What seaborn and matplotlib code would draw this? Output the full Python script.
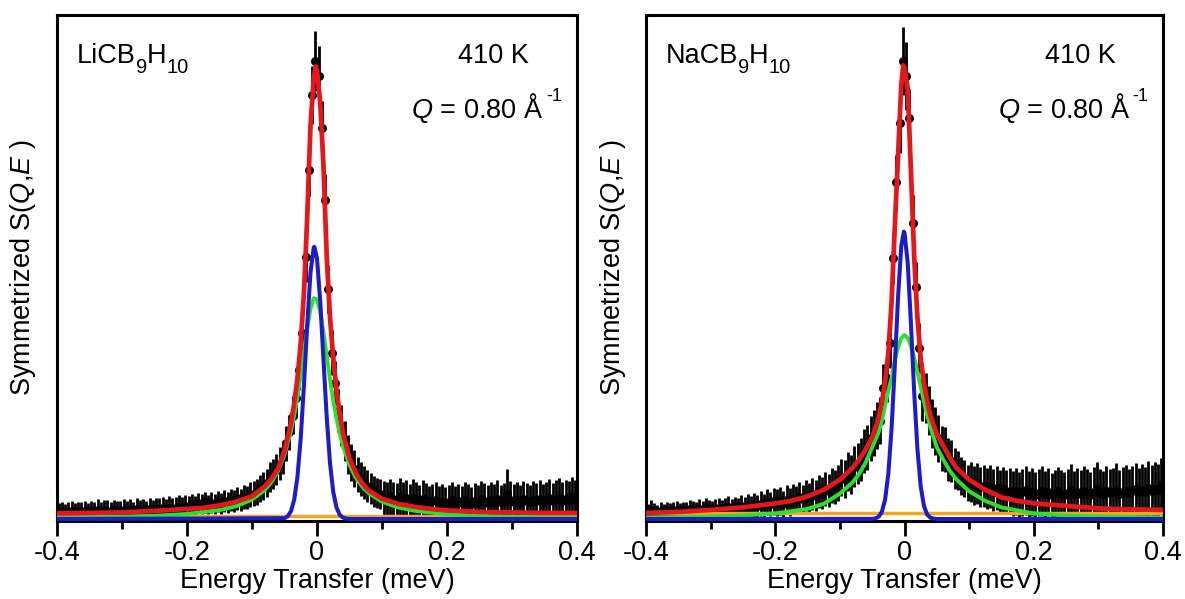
import numpy as np
import matplotlib
matplotlib.use("Agg")
import matplotlib.pyplot as plt
import seaborn as sns
from matplotlib.ticker import FixedLocator
from matplotlib.transforms import offset_copy

# ---------------------------------------------------------------- data
# energy-bin centres of the measured spectra (meV), 0.005 meV bins
energy_bins = np.linspace(-0.3975, 0.3975, 160)

li_intensity = [
    # -0.3975 ... -0.2025
    0.012, 0.014, 0.011, 0.013, 0.015, 0.012, 0.014, 0.013, 0.016, 0.012,
    0.015, 0.014, 0.017, 0.013, 0.016, 0.015, 0.013, 0.017, 0.014, 0.016,
    0.018, 0.015, 0.017, 0.014, 0.019, 0.016, 0.018, 0.015, 0.019, 0.017,
    0.020, 0.018, 0.021, 0.017, 0.022, 0.019, 0.021, 0.023, 0.020, 0.024,
    # -0.1975 ... -0.1025
    0.026, 0.030, 0.027, 0.031, 0.029, 0.033, 0.028, 0.032, 0.030, 0.034,
    0.031, 0.036, 0.033, 0.038, 0.035, 0.041, 0.038, 0.044, 0.042, 0.048,
    # -0.0975 ... -0.0225
    0.050, 0.054, 0.061, 0.066, 0.072, 0.083, 0.089, 0.098,
    0.110, 0.122, 0.150, 0.172, 0.205, 0.240, 0.295, 0.370,
    # -0.0175 ... 0.0175
    0.519, 0.692, 0.841, 0.909, 0.879, 0.775, 0.632, 0.456,
    # 0.0225 ... 0.0975
    0.330, 0.270, 0.215, 0.185, 0.155, 0.128, 0.112, 0.100,
    0.088, 0.080, 0.072, 0.066, 0.061, 0.055, 0.052, 0.049,
    # 0.1025 ... 0.3975
    0.040, 0.037, 0.043, 0.039, 0.035, 0.044, 0.038, 0.041, 0.034, 0.042,
    0.037, 0.033, 0.040, 0.036, 0.031, 0.035, 0.038, 0.032, 0.034, 0.030,
    0.033, 0.037, 0.031, 0.035, 0.032, 0.038, 0.034, 0.030, 0.036, 0.033,
    0.039, 0.035, 0.032, 0.037, 0.034, 0.040, 0.033, 0.036, 0.049, 0.038,
    0.034, 0.037, 0.032, 0.039, 0.035, 0.033, 0.038, 0.036, 0.040, 0.034,
    0.037, 0.041, 0.035, 0.039, 0.042, 0.036, 0.040, 0.038, 0.043, 0.039,
]
li_error = [
    0.019, 0.020, 0.019, 0.020, 0.021, 0.020, 0.020, 0.021, 0.020, 0.020,
    0.021, 0.020, 0.022, 0.020, 0.021, 0.022, 0.020, 0.021, 0.021, 0.020,
    0.022, 0.021, 0.022, 0.020, 0.022, 0.021, 0.022, 0.021, 0.023, 0.021,
    0.022, 0.023, 0.022, 0.022, 0.023, 0.022, 0.023, 0.024, 0.023, 0.024,
    0.019, 0.020, 0.019, 0.020, 0.020, 0.021, 0.019, 0.021, 0.020, 0.021,
    0.021, 0.022, 0.021, 0.022, 0.022, 0.023, 0.022, 0.024, 0.023, 0.025,
    0.025, 0.026, 0.027, 0.028, 0.028, 0.030, 0.030, 0.031,
    0.032, 0.033, 0.034, 0.035, 0.036, 0.038, 0.040, 0.042,
    0.048, 0.052, 0.058, 0.060, 0.060, 0.055, 0.052, 0.048,
    0.045, 0.044, 0.042, 0.041, 0.040, 0.038, 0.037, 0.036,
    0.035, 0.034, 0.033, 0.032, 0.031, 0.031, 0.030, 0.030,
    0.035, 0.036, 0.037, 0.035, 0.036, 0.038, 0.036, 0.037, 0.035, 0.037,
    0.036, 0.035, 0.037, 0.036, 0.034, 0.035, 0.036, 0.034, 0.035, 0.034,
    0.035, 0.036, 0.034, 0.035, 0.034, 0.036, 0.035, 0.034, 0.036, 0.035,
    0.037, 0.036, 0.035, 0.037, 0.036, 0.038, 0.035, 0.036, 0.051, 0.037,
    0.036, 0.037, 0.035, 0.037, 0.036, 0.035, 0.037, 0.036, 0.038, 0.036,
    0.037, 0.039, 0.036, 0.038, 0.040, 0.037, 0.038, 0.037, 0.040, 0.038,
]

na_intensity = [
    0.014, 0.018, 0.015, 0.013, 0.016, 0.014, 0.017, 0.015, 0.016, 0.018,
    0.015, 0.017, 0.016, 0.019, 0.017, 0.016, 0.020, 0.018, 0.021, 0.019,
    0.017, 0.020, 0.022, 0.019, 0.021, 0.024, 0.020, 0.023, 0.021, 0.025,
    0.022, 0.026, 0.024, 0.028, 0.025, 0.030, 0.027, 0.033, 0.029, 0.035,
    0.032, 0.036, 0.030, 0.038, 0.034, 0.040, 0.037, 0.043, 0.039, 0.046,
    0.042, 0.050, 0.046, 0.055, 0.051, 0.060, 0.056, 0.066, 0.063, 0.072,
    0.082, 0.080, 0.094, 0.088, 0.104, 0.110, 0.118, 0.135,
    0.142, 0.160, 0.170, 0.186, 0.195, 0.259, 0.280, 0.349,
    0.517, 0.668, 0.785, 0.909, 0.879, 0.796, 0.587, 0.460,
    0.339, 0.245, 0.240, 0.215, 0.190, 0.175, 0.160, 0.140,
    0.138, 0.118, 0.115, 0.100, 0.096, 0.085, 0.080, 0.072,
    0.073, 0.067, 0.071, 0.063, 0.066, 0.060, 0.064, 0.057, 0.061, 0.055,
    0.059, 0.053, 0.056, 0.051, 0.055, 0.049, 0.053, 0.057, 0.050, 0.054,
    0.048, 0.052, 0.056, 0.049, 0.053, 0.047, 0.051, 0.055, 0.050, 0.048,
    0.052, 0.057, 0.049, 0.053, 0.050, 0.055, 0.051, 0.048, 0.054, 0.060,
    0.052, 0.049, 0.055, 0.051, 0.053, 0.058, 0.050, 0.054, 0.056, 0.052,
    0.055, 0.059, 0.053, 0.057, 0.054, 0.061, 0.056, 0.060, 0.058, 0.065,
]
na_error = [
    0.016, 0.020, 0.016, 0.015, 0.017, 0.016, 0.017, 0.016, 0.017, 0.018,
    0.016, 0.017, 0.017, 0.019, 0.018, 0.017, 0.019, 0.018, 0.020, 0.019,
    0.018, 0.019, 0.020, 0.019, 0.020, 0.021, 0.019, 0.021, 0.020, 0.022,
    0.021, 0.023, 0.022, 0.024, 0.022, 0.025, 0.023, 0.026, 0.024, 0.027,
    0.027, 0.028, 0.026, 0.029, 0.028, 0.030, 0.028, 0.031, 0.029, 0.031,
    0.030, 0.032, 0.031, 0.033, 0.032, 0.034, 0.033, 0.035, 0.034, 0.036,
    0.037, 0.038, 0.039, 0.039, 0.040, 0.041, 0.042, 0.043,
    0.044, 0.045, 0.046, 0.047, 0.047, 0.048, 0.048, 0.050,
    0.050, 0.055, 0.058, 0.068, 0.068, 0.058, 0.055, 0.050,
    0.050, 0.050, 0.050, 0.049, 0.049, 0.048, 0.046, 0.045,
    0.044, 0.042, 0.041, 0.040, 0.039, 0.038, 0.037, 0.036,
    0.040, 0.039, 0.041, 0.040, 0.042, 0.041, 0.043, 0.042, 0.044, 0.043,
    0.045, 0.044, 0.046, 0.045, 0.047, 0.045, 0.047, 0.049, 0.046, 0.048,
    0.046, 0.047, 0.050, 0.046, 0.048, 0.045, 0.047, 0.049, 0.047, 0.046,
    0.048, 0.052, 0.046, 0.049, 0.047, 0.050, 0.048, 0.046, 0.049, 0.054,
    0.048, 0.047, 0.050, 0.048, 0.049, 0.053, 0.047, 0.049, 0.051, 0.048,
    0.050, 0.053, 0.049, 0.052, 0.050, 0.055, 0.051, 0.054, 0.052, 0.056,
]

# fitted components (E in meV, S in arbitrary units)
li_total_E = [-0.4, -0.35, -0.3, -0.25, -0.2, -0.175, -0.15, -0.125, -0.1, -0.08,
              -0.07, -0.06, -0.05, -0.04, -0.035, -0.03, -0.025, -0.02, -0.015, -0.01,
              -0.005, -0.002, 0.0, 0.005, 0.01, 0.015, 0.02, 0.025, 0.03, 0.035,
              0.04, 0.05, 0.06, 0.07, 0.08, 0.1, 0.125, 0.15, 0.175, 0.2,
              0.25, 0.3, 0.35, 0.4]
li_total_S = [0.011, 0.012, 0.013, 0.016, 0.020, 0.022, 0.027, 0.034, 0.045, 0.065,
              0.080, 0.100, 0.135, 0.190, 0.230, 0.280, 0.350, 0.450, 0.600, 0.780,
              0.875, 0.898, 0.890, 0.825, 0.700, 0.520, 0.400, 0.320, 0.255, 0.210,
              0.170, 0.120, 0.090, 0.070, 0.056, 0.040, 0.030, 0.024, 0.020, 0.017,
              0.014, 0.013, 0.012, 0.012]

li_lorentz_E = [-0.4, -0.3, -0.25, -0.2, -0.15, -0.125, -0.1, -0.08, -0.07, -0.06,
                -0.05, -0.04, -0.035, -0.03, -0.025, -0.02, -0.015, -0.01, -0.005, 0.0,
                0.005, 0.01, 0.015, 0.02, 0.025, 0.03, 0.035, 0.04, 0.05, 0.06,
                0.07, 0.08, 0.1, 0.125, 0.15, 0.2, 0.25, 0.3, 0.4]
li_lorentz_S = [0.0024, 0.0044, 0.0064, 0.010, 0.0176, 0.0251, 0.0384, 0.058, 0.0735, 0.0954,
                0.1274, 0.1744, 0.206, 0.243, 0.286, 0.333, 0.379, 0.417, 0.438, 0.4356,
                0.411, 0.370, 0.3235, 0.277, 0.235, 0.199, 0.169, 0.144, 0.1068, 0.0813,
                0.0636, 0.0509, 0.0344, 0.0229, 0.0163, 0.0094, 0.0061, 0.0043, 0.0024]

li_elastic_E = [-0.4, -0.05, -0.045, -0.04, -0.035, -0.03, -0.025, -0.02, -0.015, -0.01,
                -0.005, -0.004, 0.0, 0.005, 0.01, 0.015, 0.02, 0.025, 0.03, 0.035,
                0.04, 0.045, 0.05, 0.4]
li_elastic_S = [0.0, 0.0016, 0.0054, 0.0154, 0.0387, 0.0845, 0.161, 0.267, 0.387, 0.489,
                0.539, 0.540, 0.517, 0.432, 0.315, 0.201, 0.111, 0.0537, 0.0227, 0.0083,
                0.0027, 0.0007, 0.0, 0.0]

li_background_E = [-0.4, 0.4]
li_background_S = [0.006, 0.006]

na_total_E = li_total_E
na_total_S = [0.012, 0.014, 0.018, 0.023, 0.031, 0.036, 0.045, 0.058, 0.078, 0.102,
              0.118, 0.138, 0.162, 0.200, 0.232, 0.272, 0.330, 0.430, 0.580, 0.720,
              0.860, 0.900, 0.895, 0.855, 0.690, 0.520, 0.400, 0.320, 0.270, 0.235,
              0.205, 0.168, 0.145, 0.122, 0.102, 0.078, 0.058, 0.043, 0.036, 0.031,
              0.026, 0.021, 0.019, 0.018]

na_lorentz_E = li_lorentz_E
na_lorentz_S = [0.003, 0.005, 0.007, 0.011, 0.020, 0.030, 0.0503, 0.073, 0.0898, 0.1123,
                0.1424, 0.172, 0.195, 0.225, 0.255, 0.280, 0.315, 0.340, 0.359, 0.365,
                0.359, 0.3435, 0.320, 0.292, 0.2625, 0.2336, 0.2067, 0.1825, 0.1424, 0.118,
                0.096, 0.079, 0.055, 0.036, 0.023, 0.011, 0.007, 0.005, 0.003]

na_elastic_E = [-0.4, -0.05, -0.045, -0.04, -0.035, -0.03, -0.025, -0.02, -0.015, -0.01,
                -0.005, -0.001, 0.0, 0.005, 0.01, 0.015, 0.02, 0.025, 0.03, 0.035,
                0.04, 0.045, 0.05, 0.4]
na_elastic_S = [0.0, 0.0003, 0.0012, 0.0044, 0.0141, 0.0387, 0.0901, 0.1795, 0.3045, 0.4398,
                0.5416, 0.570, 0.568, 0.508, 0.387, 0.251, 0.1389, 0.0655, 0.0263, 0.0090,
                0.0026, 0.0007, 0.0, 0.0]

na_background_E = [-0.4, 0.4]
na_background_S = [0.011, 0.011]

xtick_values = [-0.4, -0.2, 0.0, 0.2, 0.4]
xtick_labels = ["-0.4", "-0.2", "0", "0.2", "0.4"]
minor_tick_values = [-0.3, -0.1, 0.1, 0.3]
li_formula_parts = ["LiCB", "9", "H", "10"]   # normal, subscript, normal, subscript
na_formula_parts = ["NaCB", "9", "H", "10"]
temperature_label = "410 K"
q_label = r"$\mathit{Q}$ = 0.80 Å"
q_exponent = "-1"
x_title = "Energy Transfer (meV)"
y_title = r"Symmetrized S($\mathit{Q}$,$\mathit{E}$ )"

for arr in (li_intensity, li_error, na_intensity, na_error):
    assert len(arr) == len(energy_bins), len(arr)

# ---------------------------------------------------------------- style
sns.set_theme(style="ticks")
plt.rcParams["font.family"] = ["Liberation Sans", "DejaVu Sans"]
plt.rcParams["axes.unicode_minus"] = False
plt.rcParams["mathtext.fontset"] = "custom"
plt.rcParams["mathtext.rm"] = "Liberation Sans"
plt.rcParams["mathtext.it"] = "Liberation Sans:italic"
plt.rcParams["mathtext.bf"] = "Liberation Sans:bold"
plt.rcParams["mathtext.default"] = "regular"

RED = "#e3171c"
BLUE = "#1c1cc8"
GREEN = "#2ee02e"
ORANGE = "#f2a623"
FS = 19.5
SUB_FS = 14.5

fig = plt.figure(figsize=(11.85, 5.99), dpi=100)
fig.patch.set_facecolor("white")
ax_li = fig.add_axes([57 / 1185, (599 - 521) / 599, 520 / 1185, 506 / 599])
ax_na = fig.add_axes([646 / 1185, (599 - 521) / 599, 517 / 1185, 506 / 599])
renderer = fig.canvas.get_renderer()


def formula_text(ax, x, y, parts):
    """Write a chemical formula with alternating normal / subscript pieces."""
    dx = 0.0
    for k, s in enumerate(parts):
        sub = k % 2 == 1
        tr = offset_copy(ax.transAxes, fig=fig, x=dx, y=-7.0 if sub else 0.0,
                         units="points")
        t = ax.text(x, y, s, transform=tr, fontsize=SUB_FS if sub else FS,
                    ha="left", va="baseline", color="black")
        dx += t.get_window_extent(renderer).width * 72.0 / fig.dpi


panels = [
    (ax_li, li_intensity, li_error,
     [(li_background_E, li_background_S, ORANGE, 2.5, 4),
      (li_lorentz_E, li_lorentz_S, GREEN, 2.8, 5),
      (li_elastic_E, li_elastic_S, BLUE, 2.9, 6),
      (li_total_E, li_total_S, RED, 3.4, 7)],
     li_formula_parts, -0.037),
    (ax_na, na_intensity, na_error,
     [(na_background_E, na_background_S, ORANGE, 2.5, 4),
      (na_lorentz_E, na_lorentz_S, GREEN, 2.8, 5),
      (na_elastic_E, na_elastic_S, BLUE, 2.9, 6),
      (na_total_E, na_total_S, RED, 3.4, 7)],
     na_formula_parts, -0.035),
]

for ax, inten, err, curves, parts, ylab_x in panels:
    ax.set_facecolor("white")
    ax.errorbar(energy_bins, inten, yerr=err, fmt="none", ecolor="black",
                elinewidth=2.0, capsize=0, zorder=2)
    sns.scatterplot(x=energy_bins, y=inten, ax=ax, color="black", s=42,
                    linewidth=0, zorder=3, legend=False)
    for ex, sy, color, lw, z in curves:
        sns.lineplot(x=ex, y=sy, ax=ax, color=color, linewidth=lw, sort=False,
                     estimator=None, zorder=z, legend=False)

    ax.set_xlim(-0.4, 0.4)
    ax.set_ylim(-0.004, 1.0)
    ax.set_yticks([])
    ax.set_xticks(xtick_values)
    ax.set_xticklabels(xtick_labels)
    ax.xaxis.set_minor_locator(FixedLocator(minor_tick_values))
    ax.tick_params(axis="x", which="major", direction="out", length=11, width=2,
                   labelsize=FS, pad=3, color="black", labelcolor="black")
    ax.tick_params(axis="x", which="minor", direction="out", length=6, width=2,
                   color="black")
    for sp in ax.spines.values():
        sp.set_visible(True)
        sp.set_linewidth(2.2)
        sp.set_color("black")

    ax.set_xlabel(x_title, fontsize=FS, labelpad=1, color="black")
    ax.set_ylabel(y_title, fontsize=FS, color="black")
    ax.yaxis.set_label_coords(ylab_x, 0.5)

    formula_text(ax, 0.038, 0.905, parts)
    ax.text(0.84, 0.905, temperature_label, transform=ax.transAxes, fontsize=FS,
            ha="center", va="baseline", color="black")
    qt = ax.text(0.936, 0.796, q_label, transform=ax.transAxes, fontsize=FS,
                 ha="right", va="baseline", color="black")
    ax.annotate(q_exponent, xy=(1.0, 1.0), xycoords=qt, xytext=(1.5, 2.5),
                textcoords="offset points", fontsize=13, ha="left", va="top",
                color="black")

fig.savefig("out.png", dpi=100, facecolor="white")
